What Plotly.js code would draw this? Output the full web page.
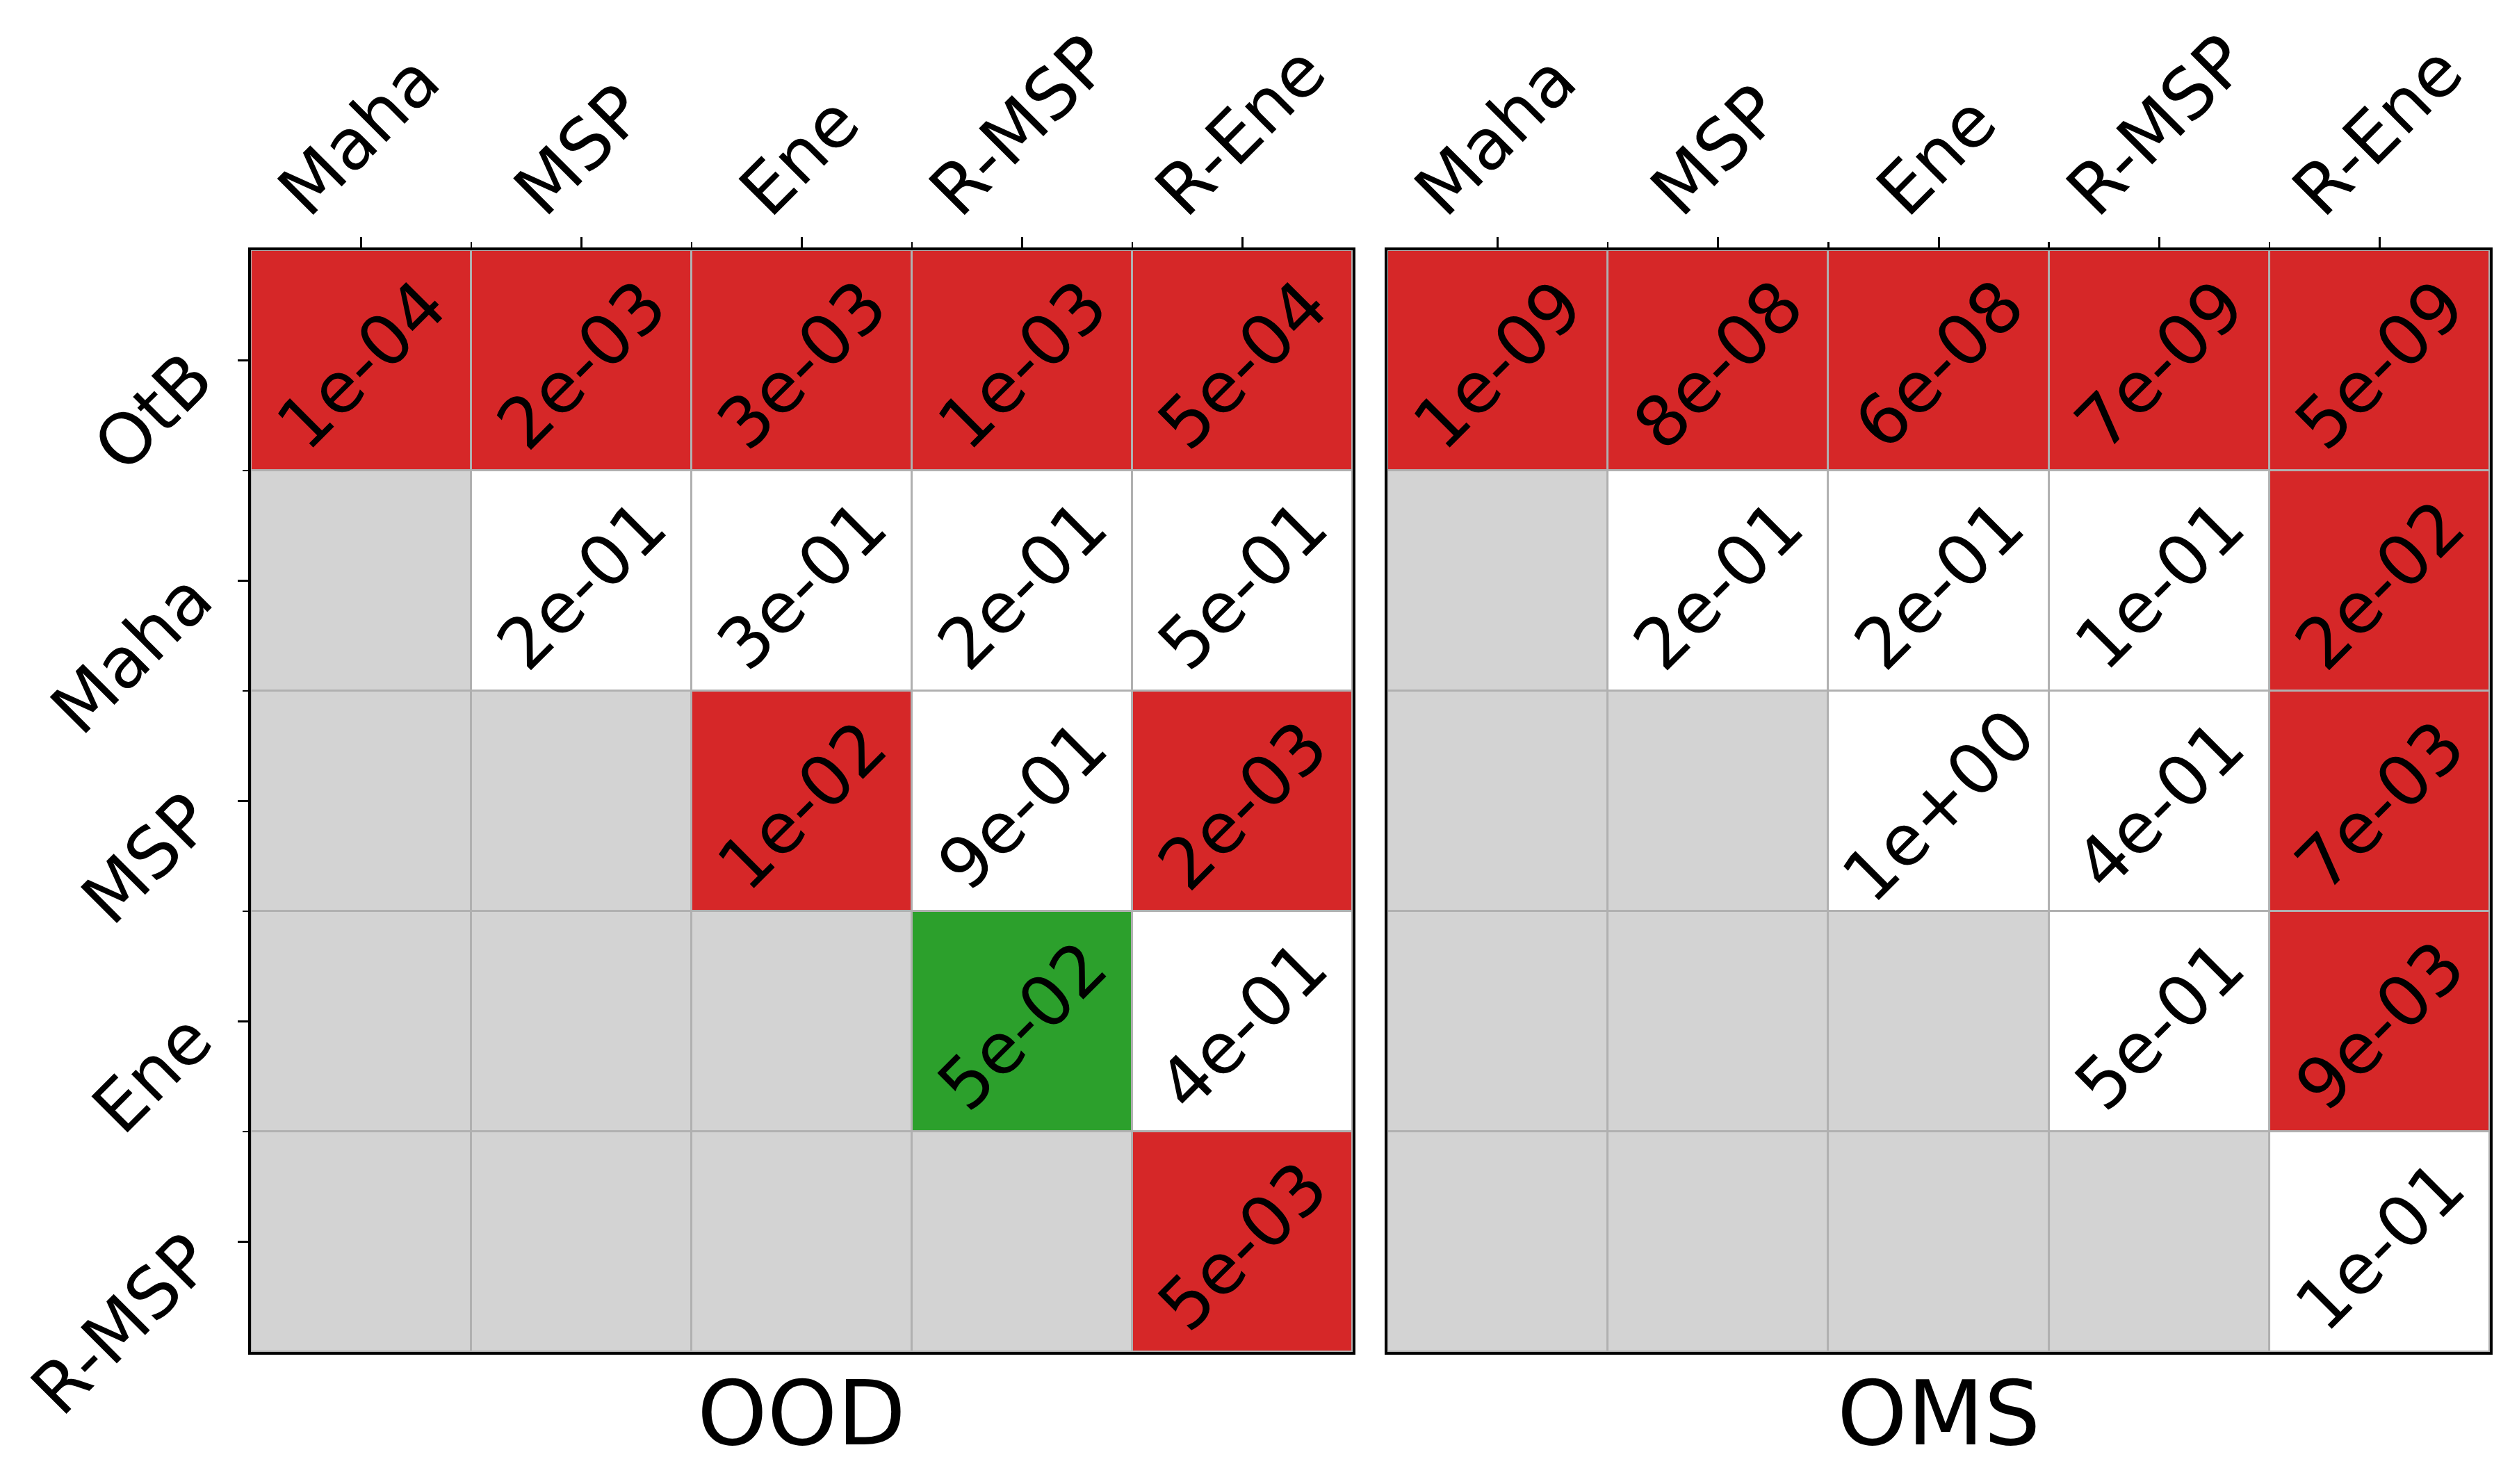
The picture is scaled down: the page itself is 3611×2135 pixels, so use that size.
<!DOCTYPE html>
<html>
<head>
<meta charset="utf-8">
<script src="https://cdn.plot.ly/plotly-3.0.1.min.js"></script>
<style>html,body{margin:0;padding:0;background:#fff;}#chart{width:3611px;height:2135px;}</style>
</head>
<body>
<div id="chart"></div>
<script>
// ---- data ----
const rowLabels = ['OtB', 'Maha', 'MSP', 'Ene', 'R-MSP'];
const colLabels = ['Maha', 'MSP', 'Ene', 'R-MSP', 'R-Ene'];
const panelTitles = ['OOD', 'OMS'];

const oodP = [
  [1e-4, 2e-3, 3e-3, 1e-3, 5e-4],
  [null, 2e-1, 3e-1, 2e-1, 5e-1],
  [null, null, 1e-2, 9e-1, 2e-3],
  [null, null, null, 5e-2, 4e-1],
  [null, null, null, null, 5e-3]
];
const oodSig = [
  ['r', 'r', 'r', 'r', 'r'],
  ['',  'w', 'w', 'w', 'w'],
  ['',  '',  'r', 'w', 'r'],
  ['',  '',  '',  'g', 'w'],
  ['',  '',  '',  '',  'r']
];
const omsP = [
  [1e-9, 8e-8, 6e-8, 7e-9, 5e-9],
  [null, 2e-1, 2e-1, 1e-1, 2e-2],
  [null, null, 1e0,  4e-1, 7e-3],
  [null, null, null, 5e-1, 9e-3],
  [null, null, null, null, 1e-1]
];
const omsSig = [
  ['r', 'r', 'r', 'r', 'r'],
  ['',  'w', 'w', 'w', 'r'],
  ['',  '',  'w', 'w', 'r'],
  ['',  '',  '',  'w', 'r'],
  ['',  '',  '',  '',  'w']
];

// ---- styling ----
const FONT = 'DejaVu Sans, Liberation Sans, sans-serif';
const FS = 101;
const codeOf = {'': 0, 'w': 1, 'r': 2, 'g': 3};
const colorscale = [
  [0, '#d3d3d3'], [0.1667, '#d3d3d3'],
  [0.1667, '#ffffff'], [0.5, '#ffffff'],
  [0.5, '#d62728'], [0.8333, '#d62728'],
  [0.8333, '#2ca02c'], [1, '#2ca02c']
];
function fmt(v) {
  return v.toExponential(0).replace(/e([+-])(\d)$/, 'e$10$2');
}

const idx = colLabels.map((_, i) => i);
const panels = [
  {p: oodP, s: oodSig, xa: 'x', ya: 'y'},
  {p: omsP, s: omsSig, xa: 'x2', ya: 'y2'}
];

const traces = panels.map(pn => ({
  type: 'heatmap',
  x: idx, y: rowLabels.map((_, i) => i),
  z: pn.s.map(r => r.map(c => codeOf[c])),
  zmin: 0, zmax: 3,
  colorscale: colorscale,
  showscale: false,
  xgap: 3, ygap: 3,
  hoverinfo: 'skip',
  xaxis: pn.xa, yaxis: pn.ya
}));

const annotations = [];
panels.forEach((pn, k) => {
  // cell texts
  pn.p.forEach((row, i) => row.forEach((v, j) => {
    if (v === null) return;
    annotations.push({
      x: j, y: i, xref: pn.xa, yref: pn.ya,
      text: fmt(v), textangle: -45, showarrow: false,
      xanchor: 'center', yanchor: 'middle', yshift: -6,
      font: {family: FONT, size: FS, color: '#000'}
    });
  }));
  // top tick labels
  colLabels.forEach((lab, j) => {
    annotations.push({
      x: j, y: 1, xref: pn.xa, yref: 'paper',
      text: lab, textangle: -45, showarrow: false,
      xanchor: 'center', yanchor: 'bottom', xshift: -3, yshift: 24,
      font: {family: FONT, size: FS, color: '#000'}
    });
  });
  // panel title
  annotations.push({
    x: 2, y: 0, xref: pn.xa, yref: 'paper',
    text: panelTitles[k], showarrow: false,
    xanchor: 'center', yanchor: 'top', yshift: -12,
    font: {family: FONT, size: 128, color: '#000'}
  });
});
// left tick labels
rowLabels.forEach((lab, i) => {
  annotations.push({
    x: 0, y: i, xref: 'paper', yref: 'y',
    text: lab, textangle: -45, showarrow: false,
    xanchor: 'right', yanchor: 'top', xshift: -30, yshift: 37,
    font: {family: FONT, size: FS, color: '#000'}
  });
});

const minorT = {tickvals: [0.5, 1.5, 2.5, 3.5], ticks: 'outside', ticklen: 8, tickwidth: 2.5, tickcolor: '#000', showgrid: false};
function xax(domain, anchor) {
  return {
    domain: domain, anchor: anchor, side: 'top', range: [-0.5, 4.5],
    tickmode: 'array', tickvals: idx, showticklabels: false,
    ticks: 'outside', ticklen: 15, tickwidth: 3, tickcolor: '#000',
    minor: minorT,
    showgrid: false, zeroline: false,
    showline: true, mirror: true, linecolor: '#000', linewidth: 4,
    layer: 'above traces', fixedrange: true
  };
}
const layout = {
  width: 3611, height: 2135,
  margin: {l: 361, r: 29, t: 360, b: 190, pad: 0},
  paper_bgcolor: '#ffffff', plot_bgcolor: '#b0b0b0',
  showlegend: false,
  xaxis: xax([0, 0.49208], 'y'),
  xaxis2: xax([0.50761, 1], 'y2'),
  yaxis: {
    domain: [0, 1], anchor: 'x', range: [4.5, -0.5],
    tickmode: 'array', tickvals: rowLabels.map((_, i) => i), showticklabels: false,
    ticks: 'outside', ticklen: 15, tickwidth: 3, tickcolor: '#000',
    minor: minorT,
    showgrid: false, zeroline: false,
    showline: true, mirror: true, linecolor: '#000', linewidth: 4,
    layer: 'above traces', fixedrange: true
  },
  yaxis2: {
    domain: [0, 1], anchor: 'x2', range: [4.5, -0.5], matches: 'y',
    showticklabels: false, ticks: '',
    showgrid: false, zeroline: false,
    showline: true, mirror: true, linecolor: '#000', linewidth: 4,
    layer: 'above traces', fixedrange: true
  },
  annotations: annotations
};

Plotly.newPlot('chart', traces, layout, {staticPlot: true, displayModeBar: false});
</script>
</body>
</html>
